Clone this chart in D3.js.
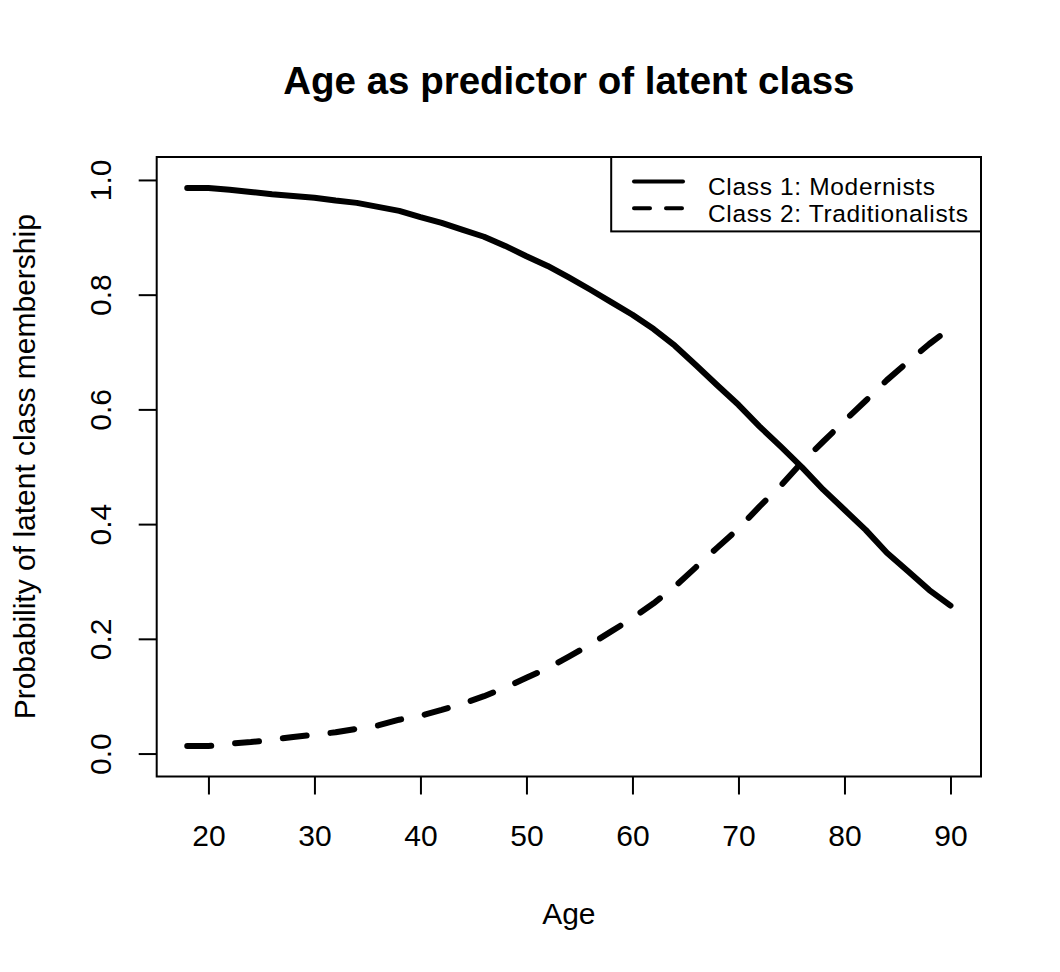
<!DOCTYPE html>
<html>
<head>
<meta charset="utf-8">
<script src="https://cdn.jsdelivr.net/npm/d3@7"></script>
<style>
  body { margin: 0; background: white; }
</style>
</head>
<body>
<script>
// data
let ages = [18, 20, 22, 24, 26, 28, 30, 32, 34, 36, 38, 40, 42, 44, 46, 48, 50, 52, 54,
            56, 58, 60, 62, 64, 66, 68, 70, 72, 74, 76, 78, 80, 82, 84, 86, 88, 90]
let modernists = [0.986, 0.986, 0.983, 0.979, 0.975, 0.972, 0.969, 0.964, 0.960, 0.953,
                  0.946, 0.935, 0.925, 0.913, 0.901, 0.885, 0.867, 0.850, 0.830, 0.809,
                  0.787, 0.765, 0.740, 0.711, 0.677, 0.642, 0.608, 0.570, 0.535, 0.499,
                  0.460, 0.425, 0.390, 0.350, 0.318, 0.285, 0.258]
let traditionalists = [0.013, 0.013, 0.017, 0.020, 0.024, 0.029, 0.033, 0.037, 0.043, 0.049,
                       0.059, 0.066, 0.076, 0.087, 0.100, 0.115, 0.132, 0.149, 0.169, 0.190,
                       0.213, 0.236, 0.262, 0.291, 0.325, 0.359, 0.392, 0.431, 0.467, 0.508,
                       0.544, 0.580, 0.615, 0.651, 0.683, 0.714, 0.742]
let xTicks = [20, 30, 40, 50, 60, 70, 80, 90]
let yTicks = [0, 0.2, 0.4, 0.6, 0.8, 1.0]
let legendLabels = ['Class 1: Modernists', 'Class 2: Traditionalists']

let width = 1060
let height = 972
let box = { left: 156.7, right: 981, top: 157, bottom: 776.5 }
let font = "'Liberation Sans', Arial, sans-serif"

let svgContainer = d3.select("body").append("svg")
                                    .attr("width", width)
                                    .attr("height", height)

svgContainer.append('rect')
            .attr('width', '100%')
            .attr('height', '100%')
            .attr('fill', 'white')

// R style 4% padding on each side
let xScale = d3.scaleLinear()
               .domain([18 - 72 * 0.04, 90 + 72 * 0.04])
               .range([box.left, box.right])
let yScale = d3.scaleLinear()
               .domain([-0.04, 1.04])
               .range([box.bottom, box.top])

// x axis
let xAxis = svgContainer.append('g')
                        .attr('transform', 'translate(0,' + box.bottom + ')')
                        .call(d3.axisBottom(xScale)
                                .tickValues(xTicks)
                                .tickSize(18)
                                .tickSizeOuter(0)
                                .tickPadding(30)
                                .tickFormat(d3.format('d')))
xAxis.select('.domain').remove()
xAxis.selectAll('line').attr('stroke', 'black').attr('stroke-width', 2)
xAxis.selectAll('text')
     .attr('font-family', font)
     .attr('font-size', '30px')
     .attr('fill', 'black')

// y axis, labels rotated like R's default las=0
let yAxis = svgContainer.append('g')
                        .attr('transform', 'translate(' + box.left + ',0)')
                        .call(d3.axisLeft(yScale)
                                .tickValues(yTicks)
                                .tickSize(18)
                                .tickSizeOuter(0)
                                .tickFormat(d3.format('.1f')))
yAxis.select('.domain').remove()
yAxis.selectAll('line').attr('stroke', 'black').attr('stroke-width', 2)
yAxis.selectAll('text')
     .attr('x', null)
     .attr('dy', null)
     .attr('text-anchor', 'middle')
     .attr('transform', 'translate(-45.5,0) rotate(-90)')
     .attr('font-family', font)
     .attr('font-size', '30px')
     .attr('fill', 'black')

// series
let line = d3.line()
             .x((d, i) => xScale(ages[i]))
             .y(d => yScale(d))

svgContainer.append('path')
            .datum(modernists)
            .attr('d', line)
            .attr('fill', 'none')
            .attr('stroke', 'black')
            .attr('stroke-width', 6)
            .attr('stroke-linecap', 'round')
            .attr('stroke-linejoin', 'round')

svgContainer.append('path')
            .datum(traditionalists)
            .attr('d', line)
            .attr('fill', 'none')
            .attr('stroke', 'black')
            .attr('stroke-width', 6)
            .attr('stroke-dasharray', '24,24')
            .attr('stroke-linecap', 'round')
            .attr('stroke-linejoin', 'round')

// plot box
svgContainer.append('rect')
            .attr('x', box.left)
            .attr('y', box.top)
            .attr('width', box.right - box.left)
            .attr('height', box.bottom - box.top)
            .attr('fill', 'none')
            .attr('stroke', 'black')
            .attr('stroke-width', 2)

// title and axis labels
svgContainer.append('text')
            .attr('x', (box.left + box.right) / 2)
            .attr('y', 94)
            .attr('text-anchor', 'middle')
            .attr('font-family', font)
            .attr('font-weight', 'bold')
            .attr('font-size', '38.5px')
            .attr('fill', 'black')
            .text('Age as predictor of latent class')

svgContainer.append('text')
            .attr('x', (box.left + box.right) / 2)
            .attr('y', 924)
            .attr('text-anchor', 'middle')
            .attr('font-family', font)
            .attr('font-size', '30px')
            .attr('fill', 'black')
            .text('Age')

svgContainer.append('text')
            .attr('transform', 'translate(35,' + (box.top + box.bottom) / 2 + ') rotate(-90)')
            .attr('text-anchor', 'middle')
            .attr('font-family', font)
            .attr('font-size', '30px')
            .attr('fill', 'black')
            .text('Probability of latent class membership')

// legend
let legend = svgContainer.append('g')
legend.append('rect')
      .attr('x', 611.2)
      .attr('y', box.top)
      .attr('width', box.right - 611.2)
      .attr('height', 231.4 - box.top)
      .attr('fill', 'white')
      .attr('stroke', 'black')
      .attr('stroke-width', 2)

legendLabels.forEach((label, i) => {
    let y = 181.5 + i * 26.8
    legend.append('line')
          .attr('x1', 634)
          .attr('x2', 683)
          .attr('y1', y)
          .attr('y2', y)
          .attr('stroke', 'black')
          .attr('stroke-width', 4)
          .attr('stroke-linecap', 'round')
          .attr('stroke-dasharray', i === 0 ? null : '16,16')
    legend.append('text')
          .attr('x', 708)
          .attr('y', y + 13.5)
          .attr('font-family', font)
          .attr('font-size', '24.5px')
          .attr('textLength', 227)
          .attr('fill', 'black')
          .text(label)
      .attr('textLength', i === 0 ? 227 : 260)
})
</script>
</body>
</html>
